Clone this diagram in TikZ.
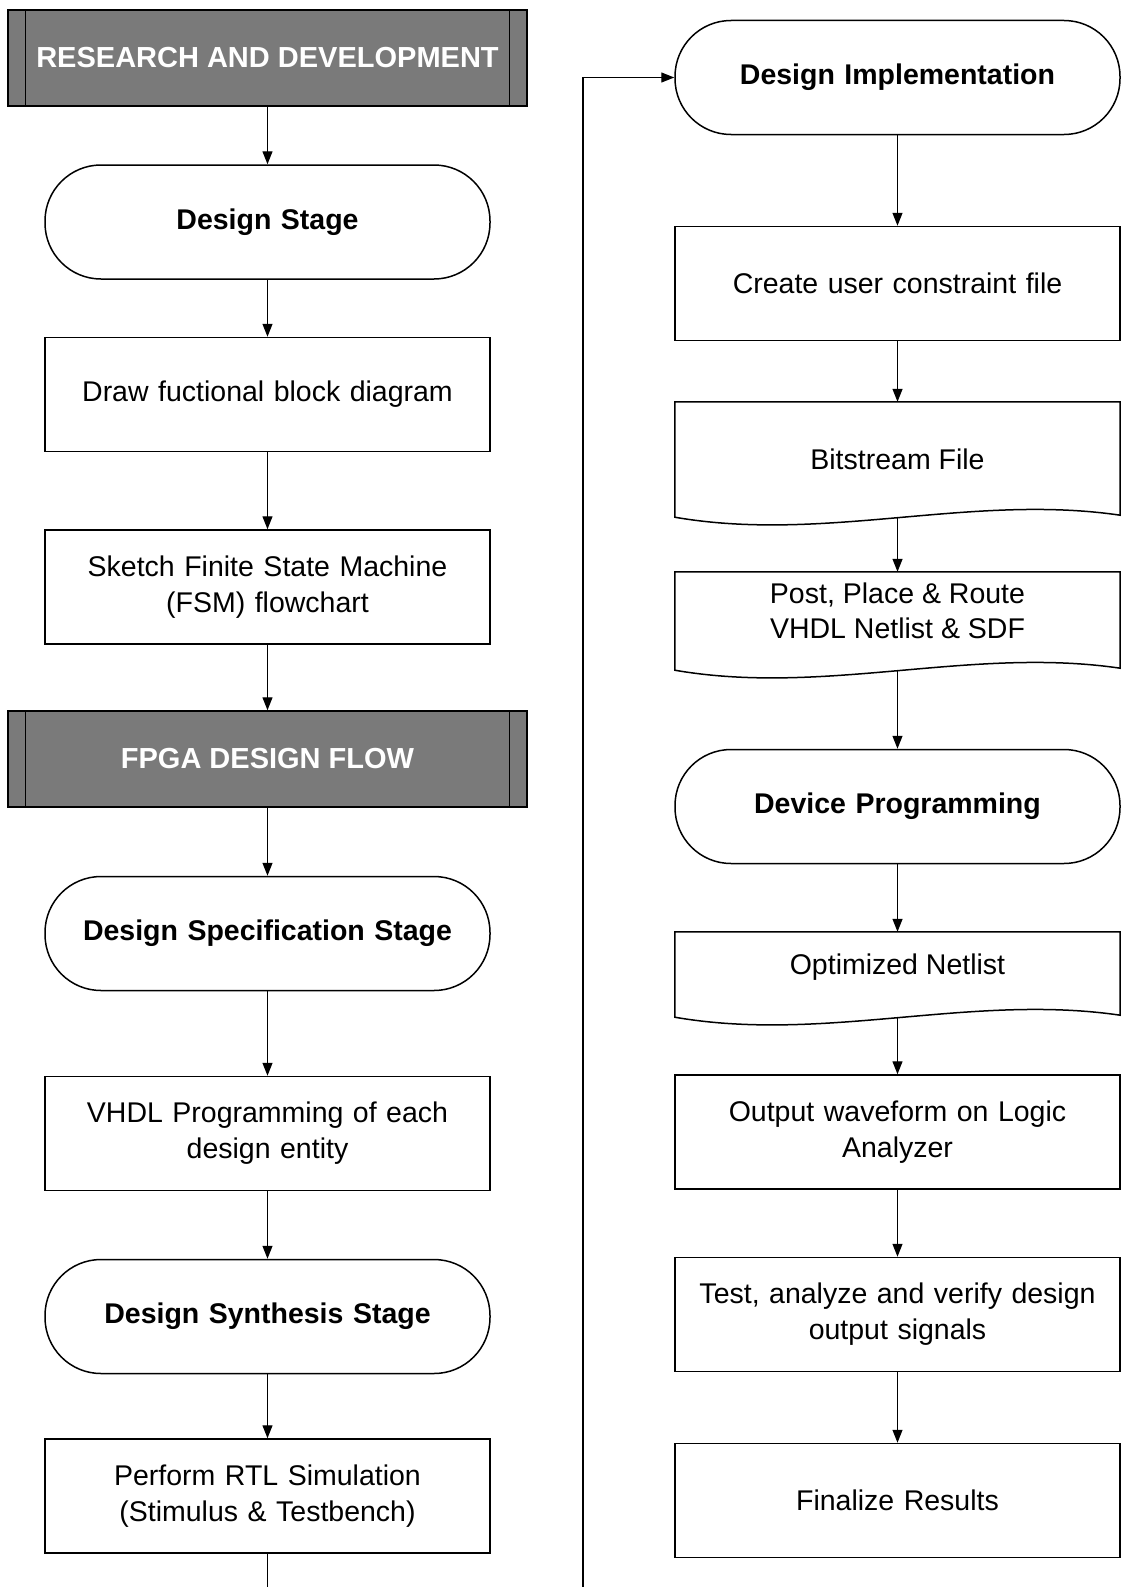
\documentclass[tikz,border=0pt]{standalone}
\usepackage{fontspec}
\setmainfont{Liberation Sans}
\usetikzlibrary{arrows.meta}
\tikzset{
  base/.style={draw=black, line width=1.5pt, align=center, font=\fontsize{28.5}{36}\selectfont, text width=430pt},
  term/.style={base, minimum width=445pt, minimum height=114pt, rounded corners=56pt, font=\fontsize{28.5}{36}\selectfont\bfseries},
  proc/.style={base, minimum width=445pt, minimum height=114pt},
  header/.style={draw=black, line width=1.5pt, fill=black!52, minimum width=519pt, minimum height=96pt, text=white, font=\fontsize{29}{34}\selectfont\bfseries},
  docnode/.style={minimum width=445pt, inner sep=0pt},
  doctext/.style={align=center, font=\fontsize{28.5}{35}\selectfont, inner sep=0pt},
  arr/.style={line width=1.3pt, -{Triangle[length=13pt,width=10pt]}},
  ln/.style={line width=1.3pt}
}
\newcommand{\docpath}[1]{%
  \draw[line width=1.5pt] (#1.north west) -- (#1.north east) -- ([yshift=2pt]#1.south east)
    .. controls ([xshift=-150pt,yshift=24pt]#1.south east) and ([xshift=150pt,yshift=-26pt]#1.south west) .. (#1.south west) -- cycle;}
\begin{document}
\begin{tikzpicture}[x=1pt,y=-1pt]
\useasboundingbox (0,0) rectangle (1125,1587);
% left column
\node[header] (rd) at (267.5,58) {RESEARCH AND DEVELOPMENT};
\draw[line width=1pt] ([xshift=18pt]rd.north west) -- ([xshift=18pt]rd.south west);
\draw[line width=1pt] ([xshift=-18pt]rd.north east) -- ([xshift=-18pt]rd.south east);
\node[term] (ds) at (267.5,222) {Design Stage};
\node[proc] (draw) at (267.5,394.5) {Draw fuctional block diagram};
\node[proc] (fsm) at (267.5,587) {Sketch Finite State Machine\\(FSM) flowchart};
\node[header] (fpga) at (267.5,759) {FPGA DESIGN FLOW};
\draw[line width=1pt] ([xshift=18pt]fpga.north west) -- ([xshift=18pt]fpga.south west);
\draw[line width=1pt] ([xshift=-18pt]fpga.north east) -- ([xshift=-18pt]fpga.south east);
\node[term] (spec) at (267.5,933.5) {Design Specification Stage};
\node[proc] (vhdl) at (267.5,1133.5) {VHDL Programming of each\\design entity};
\node[term] (synth) at (267.5,1316.5) {Design Synthesis Stage};
\node[proc] (rtl) at (267.5,1496) {Perform RTL Simulation\\(Stimulus \& Testbench)};
\coordinate (botL) at (267.5,1587);
\coordinate (botR) at (583,1587);
% right column
\node[term] (impl) at (897.5,77.5) {Design Implementation};
\node[proc] (ucf) at (897.5,283.5) {Create user constraint file};
\node[docnode, minimum height=115pt] (bit) at (897.5,459.5) {};
\docpath{bit}
\node[doctext] (bitT) at (897.5,459) {Bitstream File};
\node[docnode, minimum height=98pt] (post) at (897.5,621) {};
\docpath{post}
\node[doctext] (postT) at (897.5,611) {Post, Place \& Route\\VHDL Netlist \& SDF};
\node[term] (dev) at (897.5,806.5) {Device Programming};
\node[docnode, minimum height=85pt] (opt) at (897.5,974.5) {};
\docpath{opt}
\node[doctext] (optT) at (897.5,967) {Optimized Netlist};
\node[proc] (wave) at (897.5,1132) {Output waveform on Logic\\Analyzer};
\node[proc] (test) at (897.5,1314.5) {Test, analyze and verify design\\output signals};
\node[proc] (fin) at (897.5,1500.5) {Finalize Results};
% connectors
\draw[arr] (rd) -- (ds);
\draw[arr] (ds) -- (draw);
\draw[arr] (draw) -- (fsm);
\draw[arr] (fsm) -- (fpga);
\draw[arr] (fpga) -- (spec);
\draw[arr] (spec) -- (vhdl);
\draw[arr] (vhdl) -- (synth);
\draw[arr] (synth) -- (rtl);
\draw[ln] (rtl) -- (botL);
\draw[arr] (botR) |- (impl.west);
\draw[arr] (impl) -- (ucf);
\draw[arr] (ucf) -- (bit);
\draw[arr] (bit) -- (post);
\draw[arr] (post) -- (dev);
\draw[arr] (dev) -- (opt);
\draw[arr] (opt) -- (wave);
\draw[arr] (wave) -- (test);
\draw[arr] (test) -- (fin);
\end{tikzpicture}
\end{document}
